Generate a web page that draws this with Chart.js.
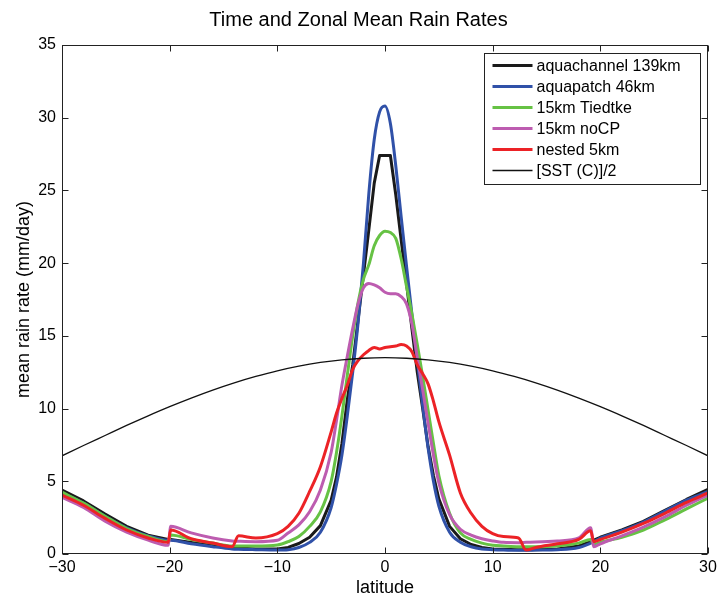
<!DOCTYPE html>
<html><head><meta charset="utf-8">
<script src="https://cdn.jsdelivr.net/npm/chart.js@4.4.1/dist/chart.umd.min.js"></script>
<style>html,body{margin:0;padding:0;background:#fff}#wrap{width:717px;height:599px}</style>
</head><body><div id="wrap"><canvas id="c" width="717" height="599"></canvas></div>
<script>
const latitude = [-30,-28,-26,-24,-22,-20.15,-19.9,-18,-16,-14.2,-13.6,-12,-10,-9,-8,-7,-6,-5,-4.5,-4,-3.5,-3,-2.5,-2,-1.5,-1,-0.5,0,0.5,1,1.5,2,2.5,3,3.5,4,4.5,5,6,7,8,9,10,11,12.4,13.1,14,16,18,19.1,19.4,20,22,24,26,28,30];
const aquachannel139 = [4.4,3.65,2.75,1.9,1.3,1.0,1.0,0.8,0.6,0.45,0.42,0.35,0.35,0.45,0.72,1.15,1.95,3.7,5.3,7.6,10.6,13.0,16.1,19.2,22.3,25.5,27.4,27.4,27.4,24.7,21.6,18.6,15.5,12.5,10.0,7.4,5.4,3.8,1.9,1.05,0.65,0.45,0.35,0.32,0.3,0.3,0.3,0.35,0.55,0.85,0.95,1.15,1.65,2.25,3.0,3.75,4.45];
const aquapatch46 = [4.2,3.5,2.6,1.8,1.25,0.95,0.95,0.7,0.5,0.35,0.33,0.3,0.27,0.3,0.45,0.8,1.5,3.2,4.8,6.8,9.5,12.5,15.9,20.0,24.8,28.5,30.4,30.8,29.6,26.7,23.2,19.8,16.5,13.3,10.2,7.3,5.0,3.3,1.5,0.8,0.5,0.35,0.3,0.27,0.25,0.25,0.27,0.3,0.45,0.75,0.85,1.1,1.6,2.2,2.95,3.7,4.3];
const tiedtke15 = [4.25,3.5,2.6,1.75,1.2,0.85,1.3,1.0,0.75,0.55,0.55,0.55,0.62,0.85,1.2,1.9,2.9,5.0,7.0,9.5,12.3,15.0,17.3,18.9,19.9,21.2,21.9,22.2,22.1,21.7,20.3,18.4,16.5,14.4,12.2,9.9,7.6,5.4,2.8,1.45,1.0,0.75,0.6,0.55,0.5,0.5,0.5,0.55,0.75,1.0,0.65,0.8,1.15,1.65,2.35,3.1,3.85];
const noCP15 = [3.9,3.2,2.25,1.5,0.95,0.6,1.9,1.45,1.1,0.9,0.88,0.85,0.95,1.45,2.0,2.9,4.4,7.0,9.2,11.6,13.6,15.5,17.2,18.3,18.6,18.5,18.3,18.0,17.9,17.9,17.7,17.2,15.8,13.5,11.3,9.0,6.8,4.9,2.7,1.7,1.3,1.05,0.9,0.8,0.78,0.8,0.82,0.9,1.1,1.8,0.5,0.7,1.25,1.85,2.55,3.35,4.05];
const nested5 = [4.05,3.35,2.45,1.65,1.1,0.8,1.65,1.05,0.75,0.5,1.25,1.1,1.4,1.9,2.8,4.3,6.0,8.4,9.7,10.7,11.6,12.7,13.3,13.7,14.0,14.2,14.1,14.2,14.25,14.3,14.4,14.3,13.9,13.0,12.4,11.7,10.5,9.1,6.8,4.2,2.8,1.9,1.4,1.2,1.1,0.27,0.45,0.7,1.0,1.6,0.85,1.0,1.5,2.1,2.8,3.55,4.2];
const sstLatitude = [-30,-28,-26,-24,-22,-20,-18,-16,-14,-12,-10,-8,-6,-4,-2,0,2,4,6,8,10,12,14,16,18,20,22,24,26,28,30];
const sstHalf = [6.75,7.46,8.15,8.84,9.50,10.13,10.72,11.27,11.77,12.21,12.60,12.92,13.17,13.35,13.46,13.5,13.46,13.35,13.17,12.92,12.60,12.21,11.77,11.27,10.72,10.13,9.50,8.84,8.15,7.46,6.75];
const seriesLabels = ['aquachannel 139km','aquapatch 46km','15km Tiedtke','15km noCP','nested 5km','[SST (C)]/2'];
const xTickValues = [-30,-20,-10,0,10,20,30];
const yTickValues = [0,5,10,15,20,25,30,35];

const FONT = 'Liberation Sans, Arial, Helvetica, sans-serif';
const pts = (xs, ys) => xs.map((x, i) => ({x: x, y: ys[i]}));
const rain = [aquachannel139, aquapatch46, tiedtke15, noCP15, nested5];
const colors = ['#1a1a1a','#3051a8','#66c244','#bd5cb0','#ec2226'];
const datasets = rain.map((vals, i) => ({
  label: seriesLabels[i], data: pts(latitude, vals), borderColor: colors[i], backgroundColor: colors[i],
  borderWidth: 3, pointRadius: 0, tension: 0, cubicInterpolationMode: i === 0 ? 'default' : 'monotone',
  order: 6 - i, borderJoinStyle: 'round', borderCapStyle: 'round'
}));
datasets.push({label: seriesLabels[5], data: pts(sstLatitude, sstHalf), borderColor: '#111', backgroundColor: '#111',
  borderWidth: 1.3, pointRadius: 0, cubicInterpolationMode: 'monotone', order: 0});

const matlabFrame = {
  id: 'matlabFrame',
  afterDraw(chart) {
    const {ctx, chartArea: a, scales: {x, y}} = chart;
    ctx.save();
    ctx.strokeStyle = '#222'; ctx.lineWidth = 1;
    const L = Math.round(a.left) + 0.5, R = Math.round(a.right) - 0.5, T = Math.round(a.top) + 0.5, B = Math.round(a.bottom) - 0.5;
    ctx.strokeRect(L, T, R - L, B - T);
    ctx.beginPath();
    xTickValues.forEach(v => { const p = Math.round(x.getPixelForValue(v)) + 0.5;
      ctx.moveTo(p, B); ctx.lineTo(p, B - 6); ctx.moveTo(p, T); ctx.lineTo(p, T + 6); });
    yTickValues.forEach(v => { const p = Math.round(y.getPixelForValue(v)) + 0.5;
      ctx.moveTo(L, p); ctx.lineTo(L + 6, p); ctx.moveTo(R, p); ctx.lineTo(R - 6, p); });
    ctx.stroke();
    const bw = 216, bh = 131;
    const bx = Math.round(a.right - 8 - bw) + 0.5, by = Math.round(a.top + 8) + 0.5;
    ctx.fillStyle = '#fff'; ctx.fillRect(bx, by, bw, bh);
    ctx.strokeStyle = '#222'; ctx.lineWidth = 1; ctx.strokeRect(bx, by, bw, bh);
    ctx.font = '16px ' + FONT; ctx.textBaseline = 'middle'; ctx.textAlign = 'left';
    chart.data.datasets.forEach((d, i) => {
      const cy = by + 12 + i * 21;
      ctx.beginPath(); ctx.strokeStyle = d.borderColor; ctx.lineWidth = d.borderWidth;
      ctx.moveTo(bx + 8, cy); ctx.lineTo(bx + 48, cy); ctx.stroke();
      ctx.fillStyle = '#000'; ctx.fillText(d.label, bx + 52, cy + 1);
    });
    ctx.restore();
  }
};

new Chart(document.getElementById('c'), {
  type: 'line',
  data: {datasets: datasets},
  options: {
    responsive: false, animation: false, devicePixelRatio: 1,
    layout: {padding: {left: 0, right: 0, top: 0, bottom: 0}},
    plugins: {
      legend: {display: false}, tooltip: {enabled: false},
      title: {display: true, text: 'Time and Zonal Mean Rain Rates', color: '#000',
        font: {family: FONT, size: 20, weight: 'normal'}, padding: {top: 8, bottom: 13}}
    },
    scales: {
      x: {type: 'linear', min: -30, max: 30,
        afterBuildTicks: s => { s.ticks = xTickValues.map(v => ({value: v})); },
        afterFit: s => { s.height = 45; s.paddingLeft = 0; s.paddingRight = 9; },
        grid: {display: false, drawTicks: false}, border: {display: false},
        ticks: {color: '#000', font: {family: FONT, size: 16}, padding: 4, maxRotation: 0,
          callback: v => String(v).replace('-', '\u2212')},
        title: {display: true, text: 'latitude', color: '#000', font: {family: FONT, size: 18}, padding: {top: 0, bottom: 0}}},
      y: {type: 'linear', min: 0, max: 35,
        afterBuildTicks: s => { s.ticks = yTickValues.map(v => ({value: v})); },
        afterFit: s => { s.width = 62; },
        grid: {display: false, drawTicks: false}, border: {display: false},
        ticks: {color: '#000', font: {family: FONT, size: 16}, padding: 6},
        title: {display: true, text: 'mean rain rate (mm/day)', color: '#000', font: {family: FONT, size: 18}, padding: {top: 13, bottom: 0}}}
    }
  },
  plugins: [matlabFrame]
});
</script></body></html>
